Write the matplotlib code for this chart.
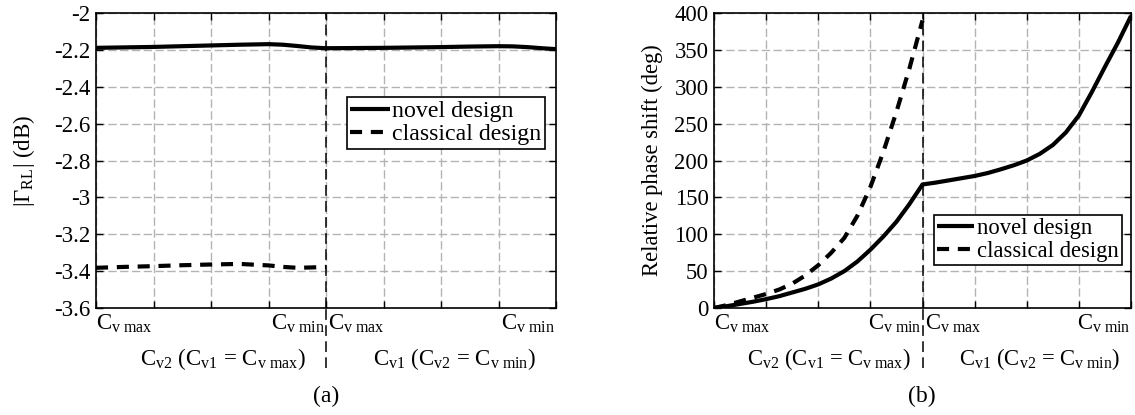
import numpy as np
import matplotlib
matplotlib.use("Agg")
import matplotlib.pyplot as plt
from matplotlib.lines import Line2D

# ---------------- data ----------------
# x position along the sweep: 0..1 = first sweep (Cv2), 1..2 = second sweep (Cv1)
a_novel_x = [0, 0.25, 0.5, 0.625, 0.75, 0.8125, 0.875, 0.9375, 1.0,
             1.25, 1.5, 1.625, 1.75, 1.8125, 1.875, 1.9375, 2.0]
a_novel_y = [-2.189, -2.184, -2.176, -2.172, -2.169, -2.172, -2.179, -2.187, -2.191,
             -2.189, -2.185, -2.182, -2.180, -2.181, -2.185, -2.191, -2.196]
a_class_x = [0, 0.125, 0.25, 0.375, 0.5, 0.625, 0.75, 0.8125, 0.875, 0.9375, 1.0]
a_class_y = [-3.382, -3.377, -3.373, -3.368, -3.364, -3.361, -3.369, -3.377, -3.382, -3.380, -3.377]

b_novel_x = [0, 0.0625, 0.125, 0.1875, 0.25, 0.3125, 0.375, 0.4375, 0.5, 0.5625, 0.625,
             0.6875, 0.75, 0.8125, 0.875, 0.9375, 1.0,
             1.0625, 1.125, 1.1875, 1.25, 1.3125, 1.375, 1.4375, 1.5, 1.5625, 1.625,
             1.6875, 1.75, 1.8125, 1.875, 1.9375, 2.0]
b_novel_y = [0, 2.5, 5.5, 8.5, 12, 16, 21, 26, 32, 40, 50,
             63, 79, 97, 117, 141, 167.5,
             170, 173, 176, 179, 183, 188, 193.5, 200, 209, 221,
             238, 261, 293, 327, 360, 396]
b_class_x = [0, 0.0625, 0.125, 0.1875, 0.25, 0.3125, 0.375, 0.4375, 0.5, 0.5625, 0.625,
             0.6875, 0.75, 0.8125, 0.875, 0.9375, 1.0]
b_class_y = [0, 4, 9, 14, 19, 25, 33, 44, 58, 75, 95,
             125, 164, 212, 266, 325, 390]

a_yticks = [-3.6, -3.4, -3.2, -3.0, -2.8, -2.6, -2.4, -2.2, -2.0]
a_ytick_labels = ['-3.6', '-3.4', '-3.2', '-3', '-2.8', '-2.6', '-2.4', '-2.2', '-2']
b_yticks = [0, 50, 100, 150, 200, 250, 300, 350, 400]
b_ytick_labels = ['0', '50', '100', '150', '200', '250', '300', '350', '400']
x_ticks = [0, 0.25, 0.5, 0.75, 1.0, 1.25, 1.5, 1.75, 2.0]

series_labels = ['novel design', 'classical design']
lab_vmax = r'C$_{\rm v\ max}$'
lab_vmin = r'C$_{\rm v\ min}$'
lab_sweep1 = r'C$_{\rm v2}$ (C$_{\rm v1}$ = C$_{\rm v\ max}$)'
lab_sweep2 = r'C$_{\rm v1}$ (C$_{\rm v2}$ = C$_{\rm v\ min}$)'
a_ylabel = r'|Γ$_{\rm RL}$| (dB)'
b_ylabel = 'Relative phase shift (deg)'

# ---------------- style ----------------
plt.rcParams['font.family'] = ['Liberation Serif', 'DejaVu Serif']
plt.rcParams['mathtext.fontset'] = 'custom'
plt.rcParams['mathtext.rm'] = 'Liberation Serif'
plt.rcParams['mathtext.it'] = 'Liberation Serif:italic'
plt.rcParams['mathtext.bf'] = 'Liberation Serif:bold'
plt.rcParams['axes.unicode_minus'] = False

W, H = 1135, 415
fig = plt.figure(figsize=(W / 100, H / 100), dpi=100)
fig.patch.set_facecolor('white')

LW = 3.0
DASH = (2.9, 2.1)


def make_axes(rect, fs, yticks, yticklabels, ylim, ylabel, labelpad):
    ax = fig.add_axes(rect)
    ax.set_xlim(0, 2)
    ax.set_ylim(*ylim)
    ax.set_xticks(x_ticks)
    ax.set_xticklabels([])
    ax.set_yticks(yticks)
    ax.set_yticklabels(yticklabels)
    ax.tick_params(direction='in', top=True, right=True, length=5, width=1.0,
                   labelsize=fs, pad=4)
    ax.grid(True, color='#b3b3b3', linewidth=1.0, linestyle=(0, (6, 2.5)))
    ax.set_axisbelow(True)
    for s in ax.spines.values():
        s.set_linewidth(1.2)
    ax.set_ylabel(ylabel, fontsize=fs, labelpad=labelpad)
    # divider between the two sweeps (extends below the axes)
    ax.add_line(Line2D([1, 1], [0, 1], transform=ax.get_xaxis_transform(),
                       color='black', linewidth=1.1, linestyle=(0, (7, 3.5)),
                       clip_on=False, zorder=3))
    ax.add_line(Line2D([1, 1], [-0.205, 0], transform=ax.get_xaxis_transform(),
                       color='black', linewidth=1.1, linestyle=(0, (7, 3.5)),
                       clip_on=False, zorder=3))
    tr = ax.transAxes
    ax.text(0.0, -0.0746, lab_vmax, transform=tr, ha='left', va='baseline', fontsize=fs)
    ax.text(0.497, -0.0746, lab_vmin, transform=tr, ha='right', va='baseline', fontsize=fs)
    ax.text(0.505, -0.0746, lab_vmax, transform=tr, ha='left', va='baseline', fontsize=fs)
    ax.text(0.998, -0.0746, lab_vmin, transform=tr, ha='right', va='baseline', fontsize=fs)
    ax.text(0.275, -0.193, lab_sweep1, transform=tr, ha='center', va='baseline', fontsize=fs)
    ax.text(0.78, -0.193, lab_sweep2, transform=tr, ha='center', va='baseline', fontsize=fs)
    return ax


def legend(ax, fs, loc, anchor):
    leg = ax.legend(loc=loc, bbox_to_anchor=anchor, fontsize=fs, frameon=True,
                    fancybox=False, edgecolor='black', framealpha=1,
                    handlelength=1.65, handletextpad=0.1, borderpad=0.15,
                    labelspacing=0.05, borderaxespad=0)
    leg.get_frame().set_linewidth(1.2)
    return leg


# ---- (a) ----
fs_a = 16.5
axa = make_axes([96 / W, 107 / H, 460 / W, 295 / H], fs_a, a_yticks, a_ytick_labels,
                (-3.6, -2.0), a_ylabel, 12)
axa.plot(a_novel_x, a_novel_y, color='black', lw=LW, solid_capstyle='butt',
         label=series_labels[0], zorder=4)
axa.plot(a_class_x, a_class_y, color='black', lw=LW, dashes=DASH,
         label=series_labels[1], zorder=4)
legend(axa, 17.2, 'upper right', (0.976, 0.715))
fig.text((96 + 230) / W, 1 - 396 / H, '(a)', ha='center', va='center', fontsize=17)

# ---- (b) ----
fs_b = 16.3
axb = make_axes([714 / W, 107 / H, 417 / W, 295 / H], fs_b, b_yticks, b_ytick_labels,
                (0, 400), b_ylabel, 8)
axb.plot(b_novel_x, b_novel_y, color='black', lw=LW, solid_capstyle='butt',
         label=series_labels[0], zorder=4)
axb.plot(b_class_x, b_class_y, color='black', lw=LW, dashes=DASH,
         label=series_labels[1], zorder=4)
legend(axb, 16.3, 'lower right', (0.978, 0.146))
fig.text((714 + 208) / W, 1 - 396 / H, '(b)', ha='center', va='center', fontsize=17)

fig.savefig('out.png', dpi=100, facecolor='white')
